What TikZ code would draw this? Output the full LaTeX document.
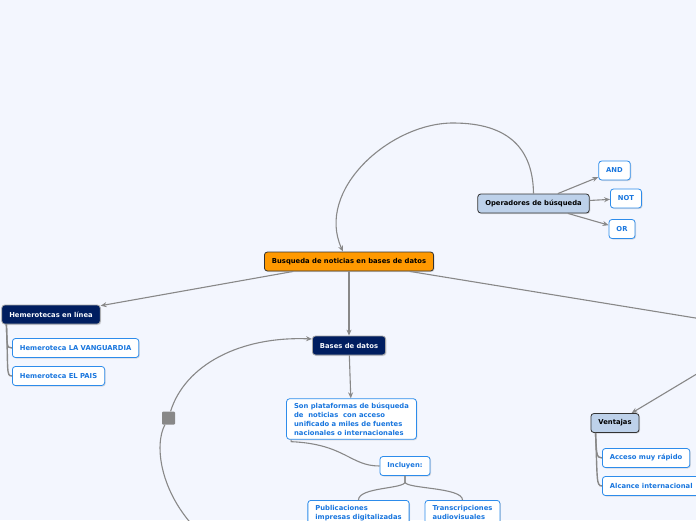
\documentclass[tikz,border=0pt]{standalone}
\usepackage{fontspec}
\setmainfont{DejaVu Sans}
\usetikzlibrary{positioning, arrows.meta, shadows}
\definecolor{canvas}{RGB}{243,246,254}
\definecolor{linegray}{RGB}{136,136,136}
\definecolor{rootorange}{RGB}{255,153,0}
\definecolor{steel}{RGB}{189,209,234}
\definecolor{navy}{RGB}{0,30,96}
\definecolor{leafblue}{RGB}{25,118,222}
\definecolor{leafborder}{RGB}{45,140,235}

\begin{document}
\begin{tikzpicture}[
    x=1pt, y=-1pt,
    box/.style={rounded corners=3pt, thick, align=center, font=\fontsize{6.8}{9}\selectfont\bfseries, minimum height=19pt, inner xsep=7.5pt, inner ysep=4pt, drop shadow={shadow xshift=1pt, shadow yshift=-1pt, opacity=0.25}},
    rootbox/.style={box, fill=rootorange, draw=black!80},
    opbox/.style={box, fill=steel, draw=black!80},
    darkbox/.style={box, fill=navy, draw=gray!70, text=white!88!steel},
    leafbox/.style={box, fill=white, draw=leafborder, text=leafblue},
    arrow/.style={-{Stealth[length=6pt, width=5pt]}, line width=1.1pt, linegray},
    branch/.style={line width=1.4pt, linegray},
    link/.style={line width=1.1pt, linegray}
]
    \fill[canvas] (0,0) rectangle (696,520);
    \useasboundingbox (0,0) rectangle (696,520);
    \clip (0,0) rectangle (696,520);

    % central topic and main branches
    \node[rootbox] (root) at (349,261.5) {Busqueda de noticias en bases de datos};
    \node[opbox] (ops) at (533.5,203.5) {Operadores de búsqueda};
    \node[leafbox] (and) at (614.5,170.5) {AND};
    \node[leafbox] (not) at (626,198.5) {NOT};
    \node[leafbox] (or) at (622,229) {OR};

    \node[darkbox] (hem) at (51,314.5) {Hemerotecas en línea};
    \node[leafbox, anchor=west] (vang) at (12,348) {Hemeroteca LA VANGUARDIA};
    \node[leafbox, anchor=west] (pais) at (12,376) {Hemeroteca EL PAIS};

    \node[darkbox] (bases) at (349,345.5) {Bases de datos};
    \node[leafbox, align=left] (son) at (351.5,419) {Son plataformas de búsqueda\\de~ noticias~ con acceso\\unificado a miles de fuentes\\nacionales o internacionales};
    \node[leafbox] (inc) at (405,466) {Incluyen:};
    \node[leafbox, anchor=north, align=left, inner ysep=5pt] (pub) at (358.5,500) {Publicaciones\\impresas digitalizadas};
    \node[leafbox, anchor=north, align=left, inner ysep=5pt] (trans) at (462.5,500) {Transcripciones\\audiovisuales};

    \node[opbox] (vent) at (615,423) {Ventajas};
    \node[leafbox, anchor=west] (acc) at (602,458) {Acceso muy rápido};
    \node[leafbox, anchor=west] (alc) at (602,486) {Alcance internacional};

    \node[fill=linegray, rounded corners=1pt, minimum size=13pt, inner sep=0pt] (knob) at (168.5,418) {};
    \coordinate (offright) at (720,322);
    \coordinate (offright2) at (720,360);
    \coordinate (loopstart) at (197,530);

    % connectors
    \draw[arrow] (root) -- (hem);
    \draw[arrow] (root) -- (bases);
    \draw[link] (root) -- (offright);
    \draw[arrow] (offright2) -- (vent);
    \draw[arrow] (ops) -- (and);
    \draw[arrow] (ops) -- (not);
    \draw[arrow] (ops) -- (or);
    \draw[arrow] (ops.north) .. controls (533,150) and (510,123) .. (453,123) .. controls (390,123) and (315,190) .. (root.north -| 343,0);
    \draw[arrow] (bases) -- (son);
    \draw[link] ([xshift=5pt]son.south west) -- ++(0,2) .. controls (345,444) and (350,466) .. (inc.west);
    \draw[link] (inc.south) -- ++(0,6) .. controls (405,489) and (358.5,487) .. (pub.north);
    \draw[link] (inc.south) -- ++(0,6) .. controls (405,489) and (462.5,487) .. (trans.north);
    \draw[link] (loopstart) .. controls (160,492) and (154,445) .. (knob);
    \draw[arrow] (knob) .. controls (185,365) and (240,336) .. (bases.170);

    % tree branches
    \draw[branch] ([xshift=5pt]hem.south west) .. controls +(1,20) and +(-6,0) .. (vang.west);
    \draw[branch] ([xshift=5pt]hem.south west) .. controls +(2,46) and +(-6,0) .. (pais.west);
    \draw[branch] ([xshift=5pt]vent.south west) .. controls +(1,20) and +(-6,0) .. (acc.west);
    \draw[branch] ([xshift=5pt]vent.south west) .. controls +(2,46) and +(-6,0) .. (alc.west);
\end{tikzpicture}
\end{document}
